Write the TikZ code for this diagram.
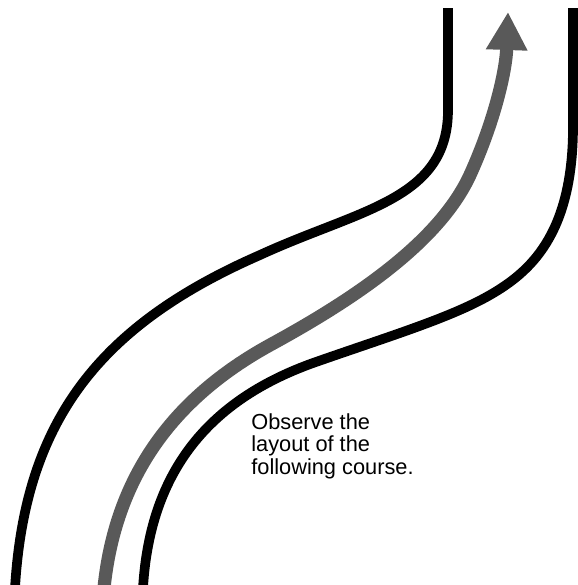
\documentclass[tikz,border=0pt]{standalone}
\usepackage{fontspec}
\setmainfont{Liberation Sans}
\usetikzlibrary{arrows.meta}

\tikzset{
  edge/.style={line width=5.5pt, black},
  route/.style={line width=7.5pt, black!65, -{Triangle[width=0.78cm, length=0.76cm]}},
}

\begin{document}
\begin{tikzpicture}[x=0.02cm, y=-0.02cm]
  \useasboundingbox (0,0) rectangle (578,585);

  % Left edge of the course
  \draw[edge] (15,588) .. controls (25,420) and (100,325) .. (260,255)
    .. controls (360,209) and (448,200) .. (448,110) -- (448,8);

  % Right edge of the course
  \draw[edge] (143,588) .. controls (150,470) and (210,400) .. (313,363)
    .. controls (390,336) and (450,318) .. (490,295)
    .. controls (530,272) and (572,235) .. (573,130) -- (573,8);

  % Route to follow
  \draw[route] (104,588) .. controls (115,480) and (170,400) .. (270,345)
    .. controls (360,296) and (440,240) .. (470,175)
    .. controls (495,120) and (506,70) .. (508,12);

  % Instruction
  \node[anchor=north west, inner sep=0pt, align=left, font=\fontsize{12.4}{13}\selectfont]
    (note) at (251,413) {Observe the\\layout of the\\following course.};
\end{tikzpicture}
\end{document}
